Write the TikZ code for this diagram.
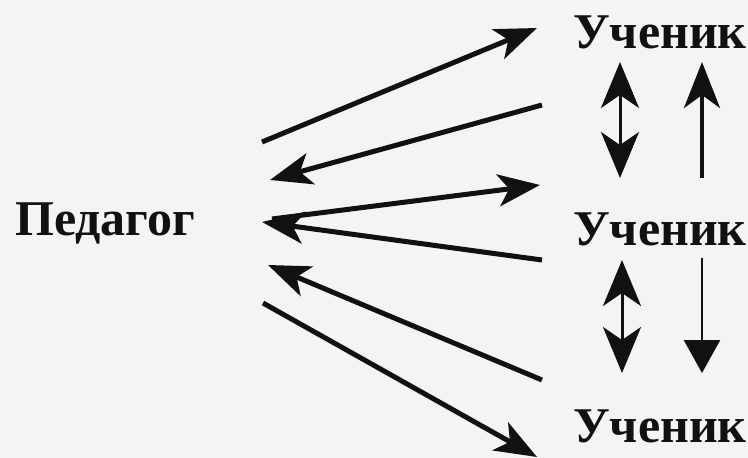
\documentclass[tikz,border=0pt]{standalone}
\usepackage{fontspec}
\setmainfont{Liberation Serif}
\usetikzlibrary{arrows.meta}
\definecolor{bg}{HTML}{F4F4F4}
\definecolor{ink}{HTML}{111111}
\begin{document}
\begin{tikzpicture}[x=1pt,y=-1pt,
  lbl/.style={inner sep=0pt, anchor=base west, text=ink},
  big/.style={font=\fontsize{50}{50}\selectfont\bfseries},
  small/.style={font=\fontsize{50}{50}\selectfont\bfseries},
  conn/.style={draw=ink, line width=5pt, -{Stealth[length=42pt,width=32pt,inset=11pt]}},
  vdouble/.style={draw=ink, line width=3pt, {Stealth[length=46pt,width=38pt,inset=13pt]}-{Stealth[length=46pt,width=38pt,inset=13pt]}},
  vsingle/.style={draw=ink, line width=4pt, -{Stealth[length=46pt,width=36pt,inset=13pt]}},
  vdown/.style={draw=ink, line width=2.5pt, -{Triangle[length=33pt,width=36pt]}}]
\fill[bg] (0,0) rectangle (748,458);
\useasboundingbox (0,0) rectangle (748,458);
% labels
\node[lbl,big] (P) at (15,235) {Педагог};
\node[lbl,small] (U1) at (573,48) {Ученик};
\node[lbl,small] (U2) at (573,245) {Ученик};
\node[lbl,small] (U3) at (573,442) {Ученик};
% connector ends
\coordinate (a1s) at (262,142); \coordinate (a1t) at (537,28);
\coordinate (a2s) at (542,105); \coordinate (a2t) at (270,180);
\coordinate (a3s) at (272,219); \coordinate (a3t) at (540,185);
\coordinate (a4s) at (542,260); \coordinate (a4t) at (262,222);
\coordinate (a5s) at (542,380); \coordinate (a5t) at (268,265);
\coordinate (a6s) at (263,303); \coordinate (a6t) at (537,457);
\coordinate (d1t) at (620,62); \coordinate (d1b) at (620,178);
\coordinate (s1b) at (702,178); \coordinate (s1t) at (702,62);
\coordinate (d2t) at (622,260); \coordinate (d2b) at (622,373);
\coordinate (s2t) at (702,258); \coordinate (s2b) at (702,373);
% diagonal arrows
\draw[conn] (a1s) -- (a1t);
\draw[conn] (a2s) -- (a2t);
\draw[conn] (a3s) -- (a3t);
\draw[conn] (a4s) -- (a4t);
\draw[conn] (a5s) -- (a5t);
\draw[conn] (a6s) -- (a6t);
% vertical arrows
\draw[vdouble] (d1t) -- (d1b);
\draw[vsingle] (s1b) -- (s1t);
\draw[vdouble] (d2t) -- (d2b);
\draw[vdown] (s2t) -- (s2b);
\end{tikzpicture}
\end{document}
